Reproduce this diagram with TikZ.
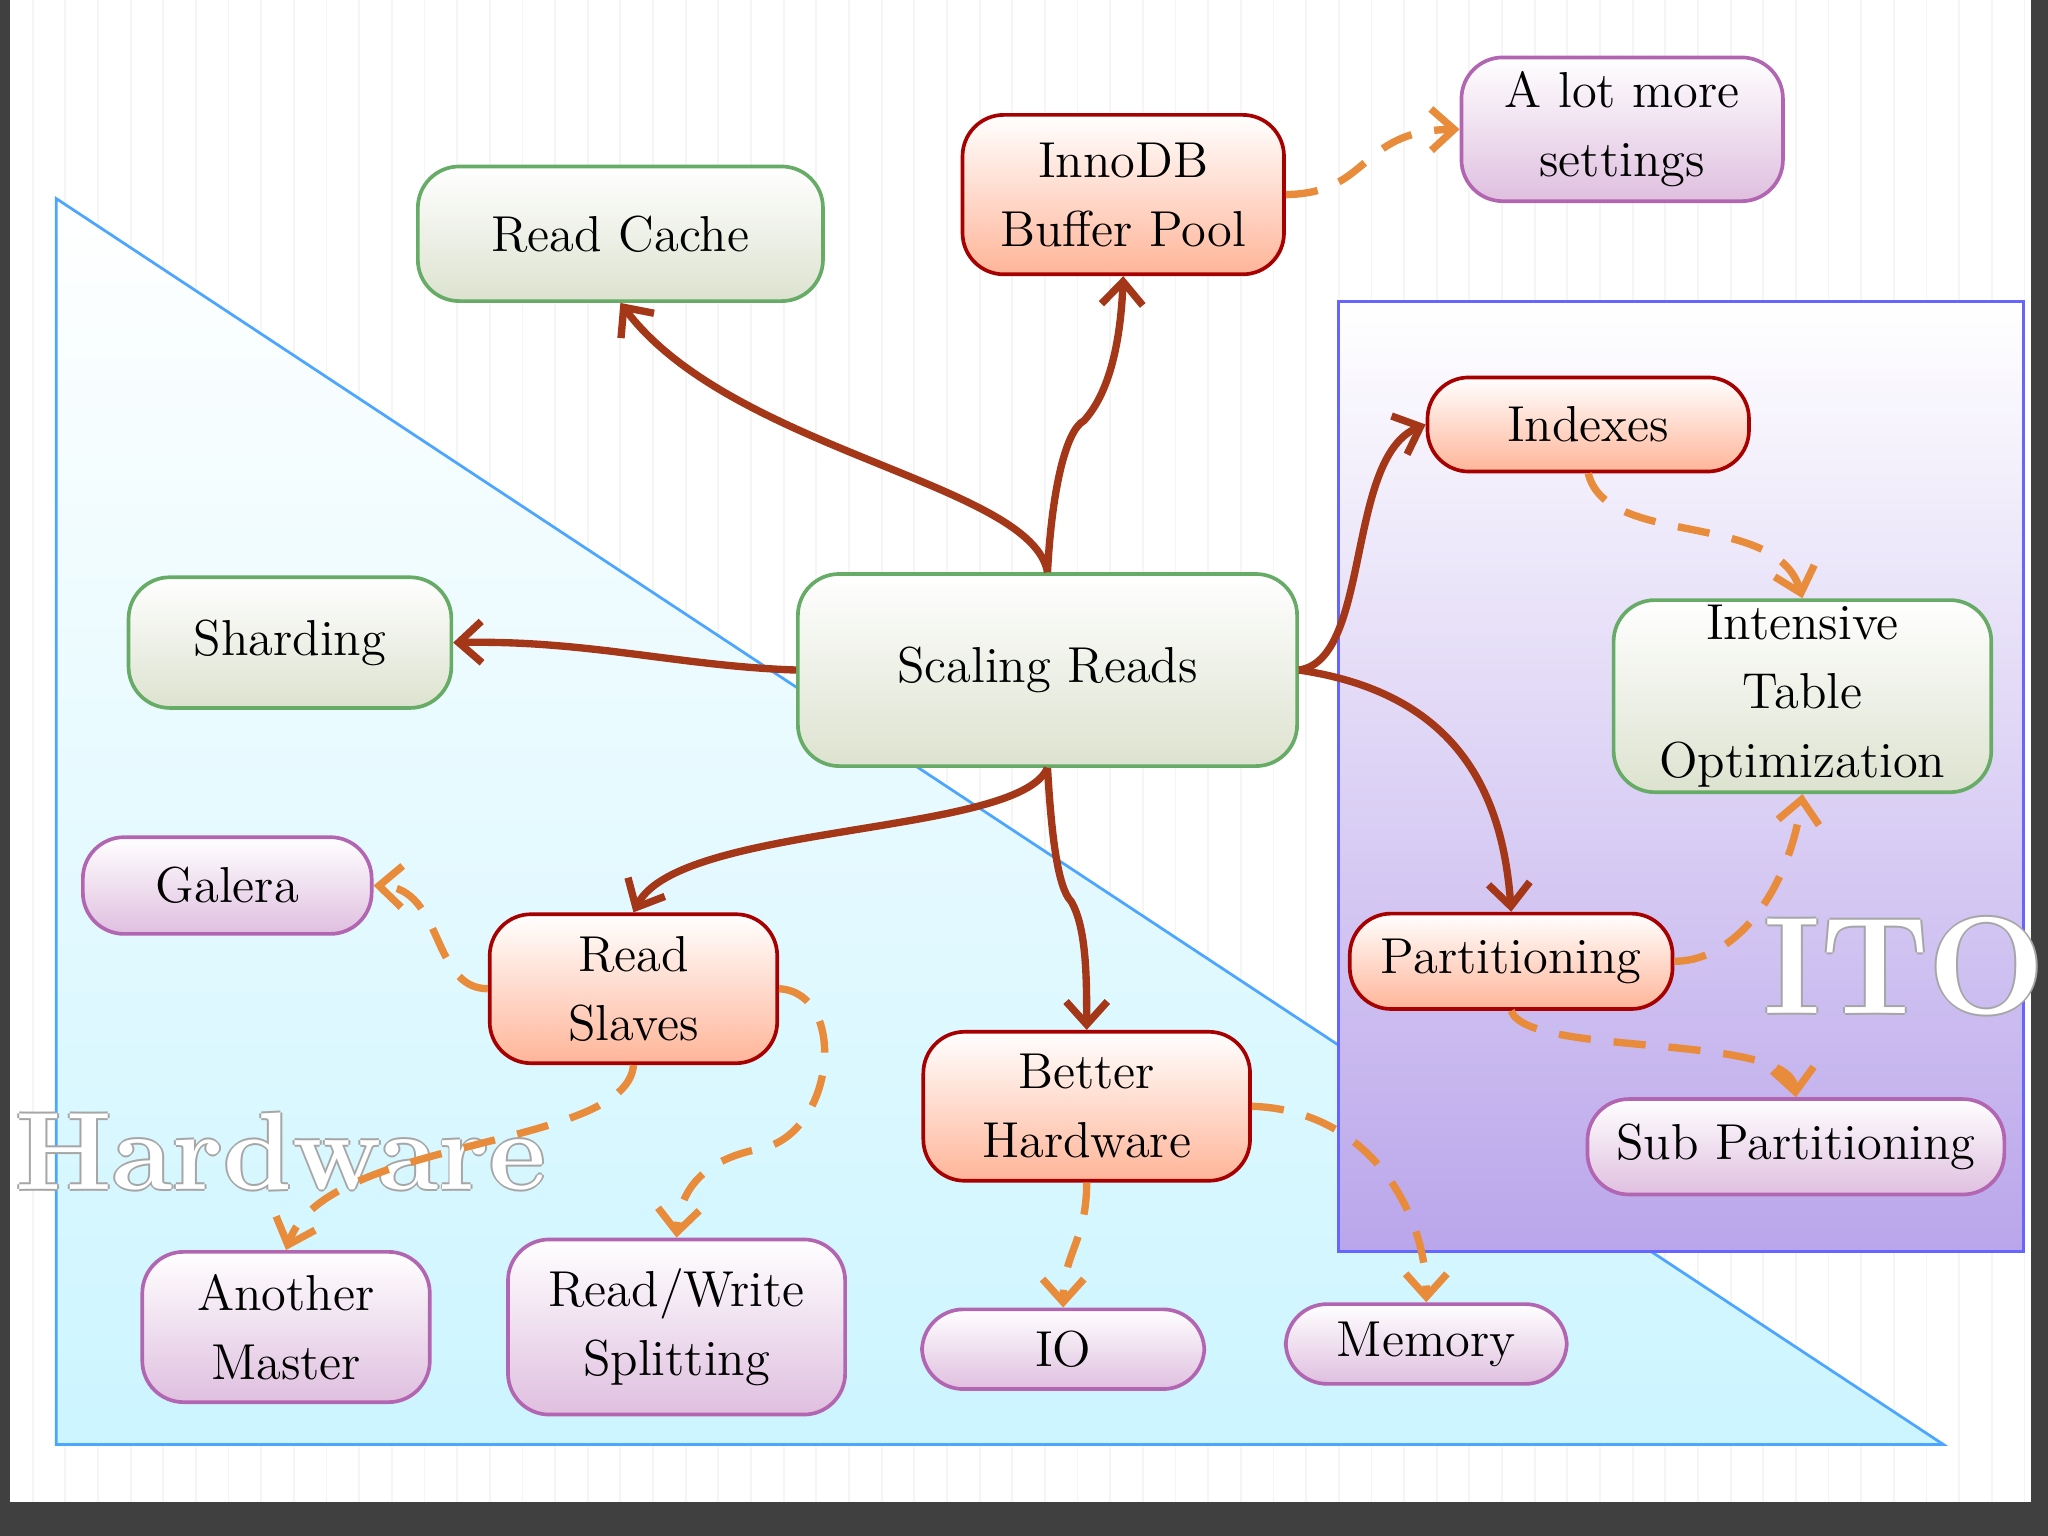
\documentclass[tikz,border=0pt]{standalone}
\usetikzlibrary{arrows.meta,shadings}
\begin{document}
\begin{tikzpicture}[x=0.01cm,y=-0.01cm,
 box/.style={rounded corners=9pt,line width=0.8pt,align=center,font=\fontsize{11}{15}\selectfont,inner sep=0pt},
 gbox/.style={box,draw=green!45!black!60,top color=white,bottom color=green!30!yellow!25!gray!30},
 rbox/.style={box,draw=red!65!black,top color=white,bottom color=red!45!orange!40},
 pbox/.style={box,draw=violet!60,top color=white,bottom color=violet!25},
 arr/.style={draw={rgb,255:red,165;green,55;blue,25},line width=1.6pt,-{Straight Barb[length=5pt,width=9pt]}},
 dar/.style={draw={rgb,255:red,232;green,140;blue,60},line width=1.6pt,dash pattern=on 7pt off 5pt,-{Straight Barb[length=5pt,width=9pt]}},
 big/.style={font=\fontsize{24}{26}\selectfont\bfseries}]
\useasboundingbox (0,0) rectangle (1568,1176);
\fill[white] (0,0) rectangle (1568,1176);
\draw[gray!8,step=25] (0,0) grid (1568,1176);
\fill[black!75] (0,1150) rectangle (1568,1176);
\fill[black!75] (1555,0) rectangle (1568,1176);
\fill[black!75] (0,0) rectangle (8,1176);
\shade[top color=white,bottom color=blue!20!cyan!20] (43,152) -- (43,1106) -- (1488,1106) -- cycle;
\draw[blue!50!cyan!70,line width=0.6pt] (43,152) -- (43,1106) -- (1488,1106) -- cycle;
\shade[top color=white,bottom color=blue!55!violet!35] (1025,231) rectangle (1549,958);
\draw[blue!60,line width=0.6pt] (1025,231) rectangle (1549,958);
\foreach \dx/\dy in {-1.5/0,1.5/0,0/-1.5,0/1.5}{
 \node[big,text=gray!70] at (215+\dx,882+\dy) {Hardware};
 \node[big,font=\fontsize{30}{32}\selectfont\bfseries,text=gray!70] at (1458+\dx,740+\dy) {ITO};}
\node[big,text=white] (hwl) at (215,882) {Hardware};
\node[big,font=\fontsize{30}{32}\selectfont\bfseries,text=white] (ito) at (1458,740) {ITO};

\node[gbox,minimum width=3.10cm,minimum height=1.03cm] (rc) at (475,179) {Read Cache};
\node[rbox,minimum width=2.46cm,minimum height=1.22cm] (ib) at (860,149) {InnoDB\\Buffer Pool};
\node[pbox,minimum width=2.46cm,minimum height=1.10cm] (lot) at (1242,99) {A lot more\\settings};
\node[rbox,minimum width=2.46cm,minimum height=0.72cm] (ix) at (1216,325) {Indexes};
\node[gbox,minimum width=2.89cm,minimum height=1.47cm] (ito2) at (1380,533) {Intensive\\Table\\Optimization};
\node[gbox,minimum width=2.47cm,minimum height=1.00cm] (sh) at (222,492) {Sharding};
\node[gbox,minimum width=3.82cm,minimum height=1.47cm] (sr) at (802,513) {Scaling Reads};
\node[pbox,minimum width=2.21cm,minimum height=0.74cm] (ga) at (174,678) {Galera};
\node[rbox,minimum width=2.20cm,minimum height=1.14cm] (rs) at (485,757) {Read\\Slaves};
\node[rbox,minimum width=2.47cm,minimum height=0.73cm] (pa) at (1157,736) {Partitioning};
\node[rbox,minimum width=2.50cm,minimum height=1.14cm] (bh) at (832,847) {Better\\Hardware};
\node[pbox,minimum width=3.19cm,minimum height=0.73cm] (sp) at (1375,878) {Sub Partitioning};
\node[pbox,minimum width=2.20cm,minimum height=1.15cm] (am) at (219,1016) {Another\\Master};
\node[pbox,minimum width=2.58cm,minimum height=1.34cm] (rw) at (518,1016) {Read/Write\\Splitting};
\node[pbox,minimum width=2.16cm,minimum height=0.61cm] (io) at (814,1033) {IO};
\node[pbox,minimum width=2.15cm,minimum height=0.61cm] (me) at (1092,1029) {Memory};

\draw[arr] (sr.north) .. controls (790,370) and (560,345) .. (rc.south);
\draw[arr] (sr.north) .. controls (805,380) and (815,330) .. (830,322) .. controls (850,300) and (858,260) .. (ib.south);
\draw[arr] (sr.west) .. controls (520,510) and (450,490) .. (sh.east);
\draw[arr] (sr.east) .. controls (1050,505) and (1030,350) .. (ix.west);
\draw[arr] (sr.east) .. controls (1110,530) and (1150,600) .. (pa.north);
\draw[arr] (sr.south) .. controls (780,640) and (520,630) .. (rs.north);
\draw[arr] (sr.south) .. controls (805,640) and (810,680) .. (820,690) .. controls (832,710) and (832,750) .. (bh.north);

\draw[dar] (ib.east) .. controls (1050,148) and (1040,100) .. (lot.west);
\draw[dar] (ix.south) .. controls (1230,420) and (1360,390) .. (ito2.north);
\draw[dar] (pa.east) .. controls (1330,736) and (1370,680) .. (ito2.south);
\draw[dar] (pa.south) .. controls (1170,810) and (1370,790) .. (sp.north);
\draw[dar] (rs.west) .. controls (330,757) and (340,680) .. (ga.east);
\draw[dar] (rs.south) .. controls (480,880) and (250,870) .. (am.north);
\draw[dar] (rs.east) .. controls (650,760) and (640,870) .. (580,880) .. controls (530,890) and (520,920) .. (rw.north);
\draw[dar] (bh.south) .. controls (832,950) and (814,960) .. (io.north);
\draw[dar] (bh.east) .. controls (1050,850) and (1092,930) .. (me.north);
\end{tikzpicture}
\end{document}
